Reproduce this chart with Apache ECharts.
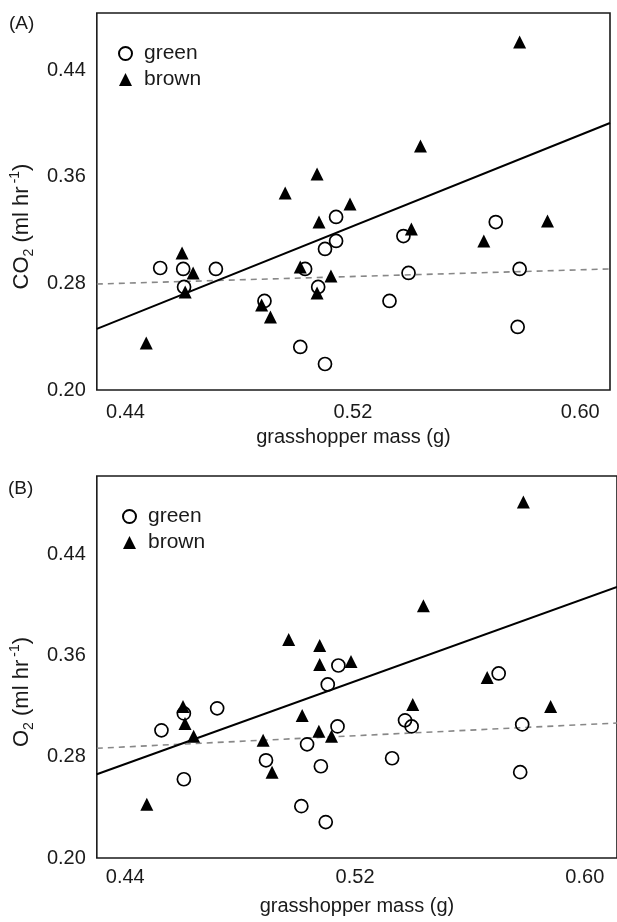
<!DOCTYPE html>
<html>
<head>
<meta charset="utf-8">
<script src="https://cdn.jsdelivr.net/npm/echarts@6/dist/echarts.min.js"></script>
<style>
html,body{margin:0;padding:0;background:#fff;}
#chart{width:617px;height:922px;}
</style>
</head>
<body>
<div id="chart"></div>
<script>
// ---- data ----
const xTickLabels = [0.44, 0.52, 0.60];
const yTickLabels = [0.20, 0.28, 0.36, 0.44];

// Panel A: CO2 vs mass
const greenCO2 = [
  [0.4522,0.2915],[0.4603,0.2908],[0.4718,0.2908],[0.4606,0.2773],[0.4889,0.2668],
  [0.5015,0.2323],[0.5032,0.2908],[0.5141,0.3298],[0.5141,0.3118],[0.5102,0.3058],
  [0.5378,0.3155],[0.5703,0.3260],[0.5787,0.2908],[0.5396,0.2878],[0.5078,0.2773],
  [0.5329,0.2668],[0.5780,0.2473],[0.5102,0.2195]
];
const brownCO2 = [
  [0.5787,0.4610],[0.5438,0.3830],[0.5074,0.3620],[0.4962,0.3478],[0.4599,0.3028],
  [0.4638,0.2878],[0.4610,0.2735],[0.4879,0.2638],[0.4910,0.2548],[0.4473,0.2353],
  [0.5015,0.2923],[0.5190,0.3395],[0.5081,0.3260],[0.5406,0.3208],[0.5885,0.3268],
  [0.5661,0.3118],[0.5123,0.2855],[0.5074,0.2728]
];
const fitBrownCO2 = [[0.4299,0.2458],[0.6105,0.4003]];
const fitGreenCO2 = [[0.4299,0.2795],[0.6105,0.2908]];

// Panel B: O2 vs mass
const greenO2 = [
  [0.4526,0.3010],[0.4604,0.3144],[0.4720,0.3184],[0.4604,0.2623],[0.4890,0.2773],
  [0.5013,0.2410],[0.5033,0.2899],[0.5142,0.3523],[0.5105,0.3373],[0.5700,0.3460],
  [0.5139,0.3041],[0.5374,0.3089],[0.5397,0.3041],[0.5782,0.3057],[0.5081,0.2726],
  [0.5329,0.2789],[0.5775,0.2679],[0.5098,0.2284]
];
const brownO2 = [
  [0.5786,0.4817],[0.5438,0.3996],[0.5077,0.3681],[0.4969,0.3728],[0.4601,0.3199],
  [0.4608,0.3065],[0.4638,0.2963],[0.4475,0.2426],[0.4880,0.2931],[0.4911,0.2679],
  [0.5016,0.3128],[0.5077,0.3531],[0.5186,0.3554],[0.5660,0.3428],[0.5401,0.3215],
  [0.5881,0.3199],[0.5074,0.3002],[0.5118,0.2963]
];
const fitBrownO2 = [[0.4301,0.2663],[0.6112,0.4144]];
const fitGreenO2 = [[0.4301,0.2868],[0.6112,0.3068]];

// ---- chart ----
const FONT = 'Liberation Sans, Arial, sans-serif';
const TXT = '#1a1a1a';
const chart = echarts.init(document.getElementById('chart'), null, {renderer:'canvas'});

function xAx(idx, min, max, margin, gap) {
  return {
    type:'value', gridIndex: idx, min: min, max: max,
    name: 'grasshopper mass (g)', nameLocation: 'middle', nameGap: gap,
    nameTextStyle: {fontFamily: FONT, fontSize: 20, color: TXT},
    axisLine: {show: false}, axisTick: {show: false}, splitLine: {show: false},
    axisLabel: {customValues: xTickLabels, margin: margin, fontFamily: FONT, fontSize: 20, color: TXT,
      formatter: v => v.toFixed(2)}
  };
}
function yAx(idx, min, max, gas) {
  return {
    type:'value', gridIndex: idx, min: min, max: max,
    name: '{n|' + gas + '}{sub|2}{n| (ml hr}{sup|-1}{n|)}',
    nameLocation: 'middle', nameRotate: 90, nameGap: 57,
    nameTextStyle: {fontFamily: FONT, fontSize: 22, color: TXT, padding: [0, 50, 0, 0],
      rich: {
        n: {fontFamily: FONT, fontSize: 22, color: TXT, lineHeight: 28},
        sub: {fontFamily: FONT, fontSize: 14, color: TXT, lineHeight: 13, verticalAlign: 'bottom'},
        sup: {fontFamily: FONT, fontSize: 14, color: TXT, lineHeight: 13, verticalAlign: 'top', padding:[0,0,0,3]}
      }},
    axisLine: {show: false}, axisTick: {show: false}, splitLine: {show: false},
    axisLabel: {customValues: yTickLabels, margin: 11, fontFamily: FONT, fontSize: 20, color: TXT,
      formatter: v => v.toFixed(2)}
  };
}
function scat(name, data, xi, yi) {
  const isGreen = name === 'green';
  return {
    type: 'scatter', name: name, xAxisIndex: xi, yAxisIndex: yi, data: data,
    symbol: isGreen ? 'circle' : 'triangle',
    symbolSize: 13,
    itemStyle: isGreen ? {color: 'rgba(255,255,255,0)', borderColor: '#000', borderWidth: 1.7, opacity: 1}
                       : {color: '#000', borderWidth: 0, opacity: 1},
    z: isGreen ? 3 : 4,
    emphasis: {disabled: true}, silent: true
  };
}
function fit(data, xi, yi, dashed) {
  return {
    type: 'line', xAxisIndex: xi, yAxisIndex: yi, data: data, showSymbol: false,
    lineStyle: dashed ? {color: '#888', width: 1.6, type: [6, 5]} : {color: '#000', width: 2},
    z: 2, silent: true, animation: false
  };
}
function leg(left, top) {
  return {
    data: ['green', 'brown'], orient: 'vertical', left: left, top: top,
    itemWidth: 13, itemHeight: 13, itemGap: 5, selectedMode: false,
    textStyle: {fontFamily: FONT, fontSize: 21, color: TXT, lineHeight: 20, padding: [0,0,0,7]}
  };
}

chart.setOption({
  animation: false,
  backgroundColor: '#fff',
  grid: [
    {left: 93, top: 13, right: 7, bottom: 532, show: true, borderColor: '#1a1a1a', borderWidth: 1.6, backgroundColor: 'transparent'},
    {left: 93, top: 476, right: -8, bottom: 64, show: true, borderColor: '#1a1a1a', borderWidth: 1.6, backgroundColor: 'transparent'}
  ],
  xAxis: [xAx(0, 0.4299, 0.6105, 12, 37), xAx(1, 0.4301, 0.6112, 9, 38)],
  yAxis: [yAx(0, 0.20, 0.4828, 'CO'), yAx(1, 0.20, 0.5022, 'O')],
  legend: [leg(113, 38), leg(117, 501)],
  graphic: [
    {type: 'text', left: 9, top: 14, style: {text: '(A)', font: '19px ' + FONT, fill: TXT}},
    {type: 'text', left: 8, top: 479, style: {text: '(B)', font: '19px ' + FONT, fill: TXT}}
  ],
  series: [
    fit(fitGreenCO2, 0, 0, true), fit(fitBrownCO2, 0, 0, false),
    scat('green', greenCO2, 0, 0), scat('brown', brownCO2, 0, 0),
    fit(fitGreenO2, 1, 1, true), fit(fitBrownO2, 1, 1, false),
    scat('green', greenO2, 1, 1), scat('brown', brownO2, 1, 1)
  ]
});
</script>
</body>
</html>
